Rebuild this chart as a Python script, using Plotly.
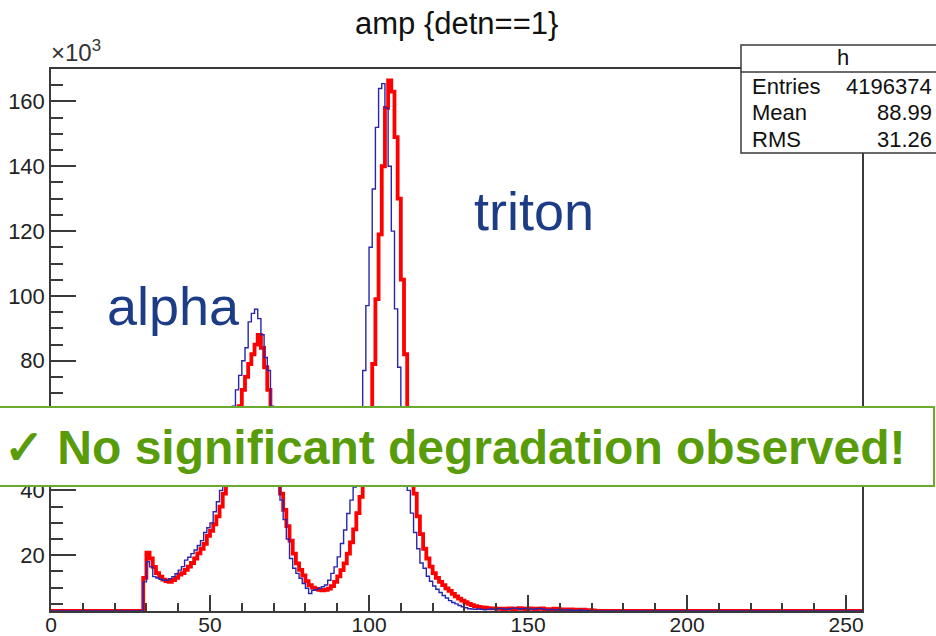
import numpy as np
import plotly.graph_objects as go

# ---------------- data (counts in units of 10^3 per bin, bin width 1) ----------------
n_bins = 255
first_bin = 29
red_counts = [
    13, 20.8, 19, 16.4, 14.5, 13.4, 12.5, 12, 11.8, 12.3,            # 29-38
    13, 14, 14.5, 15.5, 16.5, 17.6, 19, 20.6, 22, 23.5,              # 39-48
    26, 27.5, 29.5, 32, 35, 39, 42, 46, 52, 58,                      # 49-58
    66, 71, 75, 79, 82, 85, 88, 84, 78, 71,                          # 59-68
    62, 53, 46, 39, 34, 29, 24.5, 20.5, 17.5, 15.5,                  # 69-78
    13.8, 12, 10.8, 10, 9.6, 9.3, 9.2, 9.3, 9.7, 10.5,               # 79-88
    11.8, 13.5, 15.4, 17.5, 20.5, 24, 28, 33, 38, 42,                # 89-98
    50, 62, 79, 99, 119, 140, 158, 166.5, 163, 149,                  # 99-108
    130, 105, 82, 62, 48, 39, 32, 26.5, 22, 19,                      # 109-118
    16.5, 14.5, 13, 11.8, 10.8, 9.8, 9, 8.1, 7.3, 6.6,               # 119-128
    6, 5.5, 5, 4.6, 4.3, 4.1, 3.9, 3.8, 3.7, 3.6,                    # 129-138
    3.6, 3.5, 3.5, 3.4, 3.5, 3.6, 3.4, 3.5, 3.7, 3.5,                # 139-148
    3.4, 3.6, 3.5, 3.4, 3.5, 3.6, 3.4, 3.3, 3.4, 3.5,                # 149-158
    3.4, 3.3, 3.3, 3.2, 3.3, 3.2, 3.2, 3.1, 3.2, 3.1, 3.1, 3.0,      # 159-170
]
blue_counts = [
    11.8, 18, 16.4, 13.4, 13, 12.6, 12.3, 12.3, 12.8, 13.4,          # 29-38
    14.3, 15.4, 16.5, 18.5, 19.4, 20.5, 21.6, 23, 24.5, 27,          # 39-48
    28.5, 30, 33.4, 36.5, 40, 44, 50, 58, 66, 71,                    # 49-58
    75.5, 80, 84, 92, 94.6, 95.9, 93, 88, 81, 77,                    # 59-68
    66, 55, 45, 37, 31, 25, 19, 16, 14.4, 12.9,                      # 69-78
    11.3, 9.8, 8.2, 9.2, 9.4, 9.8, 10.3, 10.8, 12.3, 14.4,           # 79-88
    16.4, 19.5, 23.6, 27.8, 32.9, 37, 41, 48, 60, 77,                # 89-98
    97, 115, 133, 152, 164, 165.5, 158, 140, 120, 96,                # 99-108
    78, 63, 50, 40, 33, 27, 22, 17.6, 16, 13.5,                      # 109-118
    12, 10.5, 9.5, 8.5, 7.6, 6.8, 6, 5.4, 5, 4.5,                    # 119-128
    4.1, 3.8, 3.5, 3.4, 3.3, 3.4, 3.3, 3.2, 3.3, 3.4,                # 129-138
    3.3, 3.5, 3.6, 3.4, 3.3, 3.5, 3.7, 3.6, 3.4, 3.5,                # 139-148
    3.6, 3.4, 3.3, 3.5, 3.6, 3.4, 3.3, 3.2, 3.3, 3.2,                # 149-158
    3.2, 3.1, 3.1, 3.2, 3.1, 3.0, 3.0, 3.1, 3.0, 3.0,                # 159-168
]
x_tick_values = [0, 50, 100, 150, 200, 250]
y_tick_values = [20, 40, 60, 80, 100, 120, 140, 160]
stats_labels = ["Entries", "Mean", "RMS"]
stats_values = ["4196374", "88.99", "31.26"]

# ---------------- build histograms ----------------
def full_hist(counts):
    h = np.zeros(n_bins)
    h[first_bin:first_bin + len(counts)] = counts
    return h

red_h = full_hist(red_counts)
blue_h = full_hist(blue_counts)

Y_MIN, Y_MAX = 2.8, 170.0
edges = np.arange(n_bins + 1)

def step_y(h):
    shown = np.clip(h, Y_MIN + 0.05, None)  # ROOT draws empty bins on the frame
    return np.append(shown, shown[-1])

# ---------------- geometry helpers ----------------
W, H = 936, 636
L, R, T, B = 51, 862, 69, 611
def px(p):
    return (p - L) / (R - L)
def py(p):
    return (B - p) / (B - T)

FONT = "Liberation Sans, Arial, sans-serif"
AXC = "#3a3a3a"

fig = go.Figure()
fig.add_trace(go.Scatter(x=edges, y=step_y(red_h), mode="lines", line_shape="hv",
                         line=dict(color="#ff0000", width=3.8), hoverinfo="skip"))
fig.add_trace(go.Scatter(x=edges, y=step_y(blue_h), mode="lines", line_shape="hv",
                         line=dict(color="#2626b0", width=1.4), hoverinfo="skip"))

fig.update_layout(
    width=W, height=H,
    margin=dict(l=L, r=W - R, t=T, b=H - B, pad=0, autoexpand=False),
    paper_bgcolor="white", plot_bgcolor="white",
    showlegend=False,
    font=dict(family=FONT, size=22, color="#222"),
)
fig.update_xaxes(range=[0, n_bins], tickvals=x_tick_values, ticks="inside",
                 ticklen=16, tickwidth=1.5, tickcolor=AXC, automargin=False,
                 ticklabelstandoff=-6,
                 minor=dict(dtick=10, tick0=0, ticks="inside", ticklen=8, tickwidth=1.5, tickcolor=AXC),
                 showline=True, linecolor=AXC, linewidth=1.5, mirror=True,
                 showgrid=False, zeroline=False, tickfont=dict(size=21, color="#222"))
fig.update_yaxes(range=[Y_MIN, Y_MAX], tickvals=y_tick_values, ticks="inside",
                 ticklen=25, tickwidth=1.5, tickcolor=AXC, automargin=False,
                 minor=dict(dtick=5, tick0=0, ticks="inside", ticklen=12, tickwidth=1.5, tickcolor=AXC),
                 showline=True, linecolor=AXC, linewidth=1.5, mirror=True,
                 showgrid=False, zeroline=False, tickfont=dict(size=22, color="#222"))

ann = []
# title
ann.append(dict(text="amp {detn==1}", x=px(456), y=py(24), xref="paper", yref="paper",
                showarrow=False, xanchor="center", yanchor="middle",
                font=dict(size=31, color="#111", family=FONT)))
# exponent
ann.append(dict(text="×10<sup>3</sup>", x=px(49), y=py(68), xref="paper", yref="paper",
                showarrow=False, xanchor="left", yanchor="bottom",
                font=dict(size=24, color="#333", family=FONT)))

# stats box
shapes = [
    dict(type="rect", xref="paper", yref="paper", x0=px(741), x1=px(946), y0=py(153), y1=py(45),
         fillcolor="white", line=dict(color=AXC, width=1.5), layer="above"),
    dict(type="line", xref="paper", yref="paper", x0=px(741), x1=px(946), y0=py(72), y1=py(72),
         line=dict(color=AXC, width=1.5), layer="above"),
]
ann.append(dict(text="h", x=px(843), y=py(58), xref="paper", yref="paper", showarrow=False,
                xanchor="center", yanchor="middle", font=dict(size=22, color="#111", family=FONT)))
for i, (lab, val) in enumerate(zip(stats_labels, stats_values)):
    yy = 86 + i * 26.5
    ann.append(dict(text=lab, x=px(750), y=py(yy), xref="paper", yref="paper", showarrow=False,
                    xanchor="left", yanchor="middle", font=dict(size=22, color="#111", family=FONT)))
    ann.append(dict(text=val, x=px(934), y=py(yy), xref="paper", yref="paper", showarrow=False,
                    xanchor="right", yanchor="middle", font=dict(size=22, color="#111", family=FONT)))

# particle labels
LABC = "#1d3c86"
ann.append(dict(text="triton", x=px(534), y=py(211), xref="paper", yref="paper", showarrow=False,
                xanchor="center", yanchor="middle", font=dict(size=54, color=LABC, family=FONT)))
ann.append(dict(text="alpha", x=px(173), y=py(306), xref="paper", yref="paper", showarrow=False,
                xanchor="center", yanchor="middle", font=dict(size=54, color=LABC, family=FONT)))

# green conclusion box
GREEN = "#589c0c"
shapes.append(dict(type="rect", xref="paper", yref="paper", x0=px(-2), x1=px(934), y0=py(486), y1=py(407),
                   fillcolor="white", line=dict(color="#6aaa2e", width=2), layer="above"))
ann.append(dict(text="<b>✓ No significant degradation observed!</b>", x=px(454), y=py(447),
                xref="paper", yref="paper", showarrow=False, xanchor="center", yanchor="middle",
                font=dict(size=48, color=GREEN, family=FONT)))

fig.update_layout(annotations=ann, shapes=shapes)
fig.write_html("out.html")
